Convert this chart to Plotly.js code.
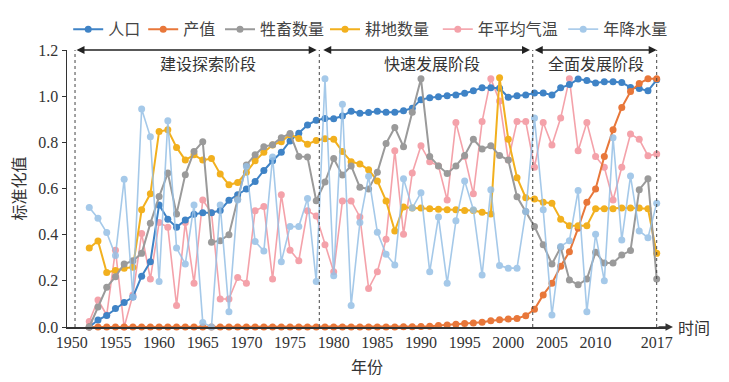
<!DOCTYPE html>
<html>
<head>
<meta charset="utf-8">
<script src="https://cdn.plot.ly/plotly-3.0.1.min.js"></script>
<style>html,body{margin:0;padding:0;background:#fff;}#chart{width:729px;height:382px;}</style>
</head>
<body>
<div id="chart"></div>
<script>
const years = [1952,1953,1954,1955,1956,1957,1958,1959,1960,1961,1962,1963,1964,1965,1966,1967,1968,1969,1970,1971,1972,1973,1974,1975,1976,1977,1978,1979,1980,1981,1982,1983,1984,1985,1986,1987,1988,1989,1990,1991,1992,1993,1994,1995,1996,1997,1998,1999,2000,2001,2002,2003,2004,2005,2006,2007,2008,2009,2010,2011,2012,2013,2014,2015,2016,2017];

const population = [0.00,0.03,0.05,0.08,0.106,0.13,0.22,0.283,0.529,0.467,0.432,0.463,0.488,0.495,0.495,0.505,0.549,0.573,0.598,0.63,0.678,0.72,0.757,0.806,0.839,0.875,0.896,0.903,0.902,0.914,0.935,0.926,0.929,0.935,0.93,0.93,0.937,0.948,0.985,0.993,0.997,1.002,1.005,1.013,1.023,1.037,1.037,1.034,0.995,1.002,1.005,1.014,1.014,1.005,1.036,1.05,1.074,1.068,1.057,1.062,1.062,1.059,1.038,1.033,1.023,1.071];

const output = [0,0,0,0,0,0,0,0,0,0,0,0,0,0,0,0,0,0,0,0,0,0,0,0,0,0,0,0,0,0,0,0,0,0,0,0,0.001,0.001,0.002,0.003,0.006,0.009,0.012,0.015,0.017,0.021,0.027,0.031,0.035,0.037,0.049,0.077,0.139,0.19,0.263,0.326,0.428,0.54,0.598,0.739,0.854,0.951,1.02,1.055,1.075,1.075];

const livestock = [0.0,0.087,0.172,0.218,0.273,0.287,0.319,0.449,0.565,0.667,0.49,0.66,0.76,0.803,0.367,0.374,0.40,0.553,0.702,0.746,0.781,0.79,0.82,0.838,0.739,0.736,0.547,0.628,0.73,0.658,0.698,0.605,0.598,0.67,0.795,0.864,0.781,0.93,1.075,0.739,0.698,0.665,0.698,0.743,0.813,0.771,0.785,0.743,0.723,0.564,0.5,0.435,0.356,0.273,0.345,0.204,0.183,0.208,0.324,0.277,0.277,0.312,0.331,0.595,0.642,0.208];

const farmland = [0.342,0.373,0.236,0.245,0.255,0.259,0.508,0.577,0.847,0.854,0.778,0.723,0.746,0.723,0.73,0.663,0.616,0.626,0.67,0.72,0.757,0.788,0.803,0.833,0.817,0.792,0.808,0.815,0.813,0.76,0.716,0.706,0.681,0.633,0.546,0.416,0.52,0.515,0.515,0.512,0.51,0.508,0.508,0.505,0.505,0.497,0.49,1.08,0.813,0.647,0.56,0.554,0.54,0.536,0.467,0.439,0.439,0.439,0.512,0.512,0.512,0.515,0.516,0.515,0.512,0.319];

const temperature = [0.024,0.117,0.052,0.333,0.0,0.139,0.405,0.208,0.453,0.432,0.093,0.453,0.19,0.55,0.495,0.121,0.121,0.214,0.19,0.504,0.522,0.208,0.573,0.333,0.287,0.504,0.481,0.356,0.239,0.546,0.546,0.477,0.167,0.239,0.38,0.764,0.402,0.667,0.785,0.716,0.698,0.55,0.886,0.739,0.577,0.89,1.075,0.979,0.723,0.89,0.89,0.692,0.886,0.788,0.905,1.075,0.764,0.886,0.739,0.692,0.55,0.692,0.836,0.813,0.742,0.75];

const precipitation = [0.518,0.471,0.409,0.31,0.64,0.13,0.944,0.824,0.197,0.893,0.342,0.273,0.529,0.02,0.0,0.529,0.066,0.55,0.695,0.37,0.329,0.737,0.283,0.435,0.435,0.557,0.197,1.075,0.222,0.965,0.093,0.453,0.653,0.411,0.315,0.269,0.642,0.515,0.582,0.239,0.477,0.19,0.46,0.633,0.508,0.225,0.595,0.266,0.255,0.255,0.5,0.905,0.508,0.052,0.349,0.374,0.591,0.066,0.402,0.2,0.82,0.377,0.654,0.416,0.387,0.536];

const seriesNames = ['人口','产值','牲畜数量','耕地数量','年平均气温','年降水量'];
const xTicks = [1950,1955,1960,1965,1970,1975,1980,1985,1990,1995,2000,2005,2010,2017];
const yTicks = [0,0.2,0.4,0.6,0.8,1.0,1.2];
const phaseNames = ['建设探索阶段','快速发展阶段','全面发展阶段'];
const phaseBounds = [[1950.37,1978.05],[1978.63,2002.49],[2002.86,2017.0]];
const phaseLabelX = [1965.6,1991.3,2010.05];
const dividers = [1950.37,1978.35,2002.8,2017.0];

const CJK = '"Noto Sans CJK SC", "Noto Sans", sans-serif';
const SERIF = '"Liberation Serif", "DejaVu Serif", serif';

// legend positions (paper x) for each series, in series order
const legendX = [0.002, 0.127, 0.255, 0.43, 0.618, 0.827];
const legendIds = ['legend','legend2','legend3','legend4','legend5','legend6'];

function tr(idx, y, color, lw, opacity) {
  return {
    type:'scatter', mode:'lines+markers', name:seriesNames[idx], x:years, y:y,
    line:{color:color, width:lw}, marker:{color:color, size:7},
    opacity:opacity, cliponaxis:false, legend:legendIds[idx]
  };
}

const data = [
  tr(4, temperature, '#f28b95', 1.6, 0.8),
  tr(0, population, '#3f83c6', 2, 1),
  tr(1, output, '#e8773a', 2, 1),
  tr(3, farmland, '#f2b01e', 2, 1),
  tr(2, livestock, '#9a9a9a', 2, 1),
  tr(5, precipitation, '#96c0e6', 1.6, 0.85)
];

const shapes = dividers.map(d => ({
  type:'line', xref:'x', yref:'y', x0:d, x1:d, y0:0, y1:1.2,
  line:{color:'#444', width:1, dash:'dot'}
}));

const annotations = [];
phaseBounds.forEach((b,i) => {
  annotations.push({
    xref:'x', yref:'y', axref:'x', ayref:'y',
    x:b[1], y:1.2, ax:b[0], ay:1.2, text:'',
    showarrow:true, arrowside:'end+start', arrowhead:2, startarrowhead:2,
    arrowsize:1, startarrowsize:1, arrowwidth:1.6, arrowcolor:'#222',
    standoff:0, startstandoff:0
  });
  annotations.push({
    xref:'x', yref:'y', x:phaseLabelX[i], y:1.144, text:phaseNames[i],
    showarrow:false, font:{family:CJK, size:16, color:'#333'}
  });
});
annotations.push({xref:'paper', yref:'y', x:0, y:1.205, ax:0, ay:14, text:'',
  showarrow:true, arrowhead:2, arrowsize:1, arrowwidth:1.5, arrowcolor:'#333'});
annotations.push({xref:'paper', yref:'y', x:1.01, y:0, ax:-16, ay:0, text:'',
  showarrow:true, arrowhead:2, arrowsize:1, arrowwidth:1.5, arrowcolor:'#333'});
annotations.push({xref:'paper', yref:'y', x:1.015, y:0, xanchor:'left', yanchor:'middle',
  text:'时间', showarrow:false, font:{family:CJK, size:16, color:'#333'}});

const layout = {
  width:729, height:382,
  margin:{l:67, r:62, t:38, b:55},
  paper_bgcolor:'#fff', plot_bgcolor:'#fff',
  showlegend:true,
  xaxis:{range:[1949.45,2018.18], tickvals:xTicks, ticktext:xTicks.map(String),
    showgrid:false, zeroline:false, showline:true, linecolor:'#333', linewidth:1.5,
    ticks:'', tickfont:{family:SERIF, size:16, color:'#333'},
    title:{text:'年份', font:{family:CJK, size:16, color:'#333'}, standoff:12}},
  yaxis:{range:[0,1.2], tickvals:yTicks, tickformat:'.1f',
    showgrid:false, zeroline:false, showline:true, linecolor:'#333', linewidth:1.5,
    ticks:'outside', ticklen:4, tickcolor:'#333',
    tickfont:{family:SERIF, size:16, color:'#333'},
    title:{text:'标准化值', font:{family:CJK, size:16, color:'#333'}, standoff:8}},
  shapes:shapes, annotations:annotations
};
legendIds.forEach((id,i) => {
  layout[id] = {orientation:'h', x:legendX[i], y:1.075, xanchor:'left', yanchor:'middle',
    font:{family:CJK, size:16, color:'#444'}, itemwidth:30, bgcolor:'rgba(0,0,0,0)'};
});

Plotly.newPlot('chart', data, layout, {displayModeBar:false, staticPlot:true});
</script>
</body>
</html>
